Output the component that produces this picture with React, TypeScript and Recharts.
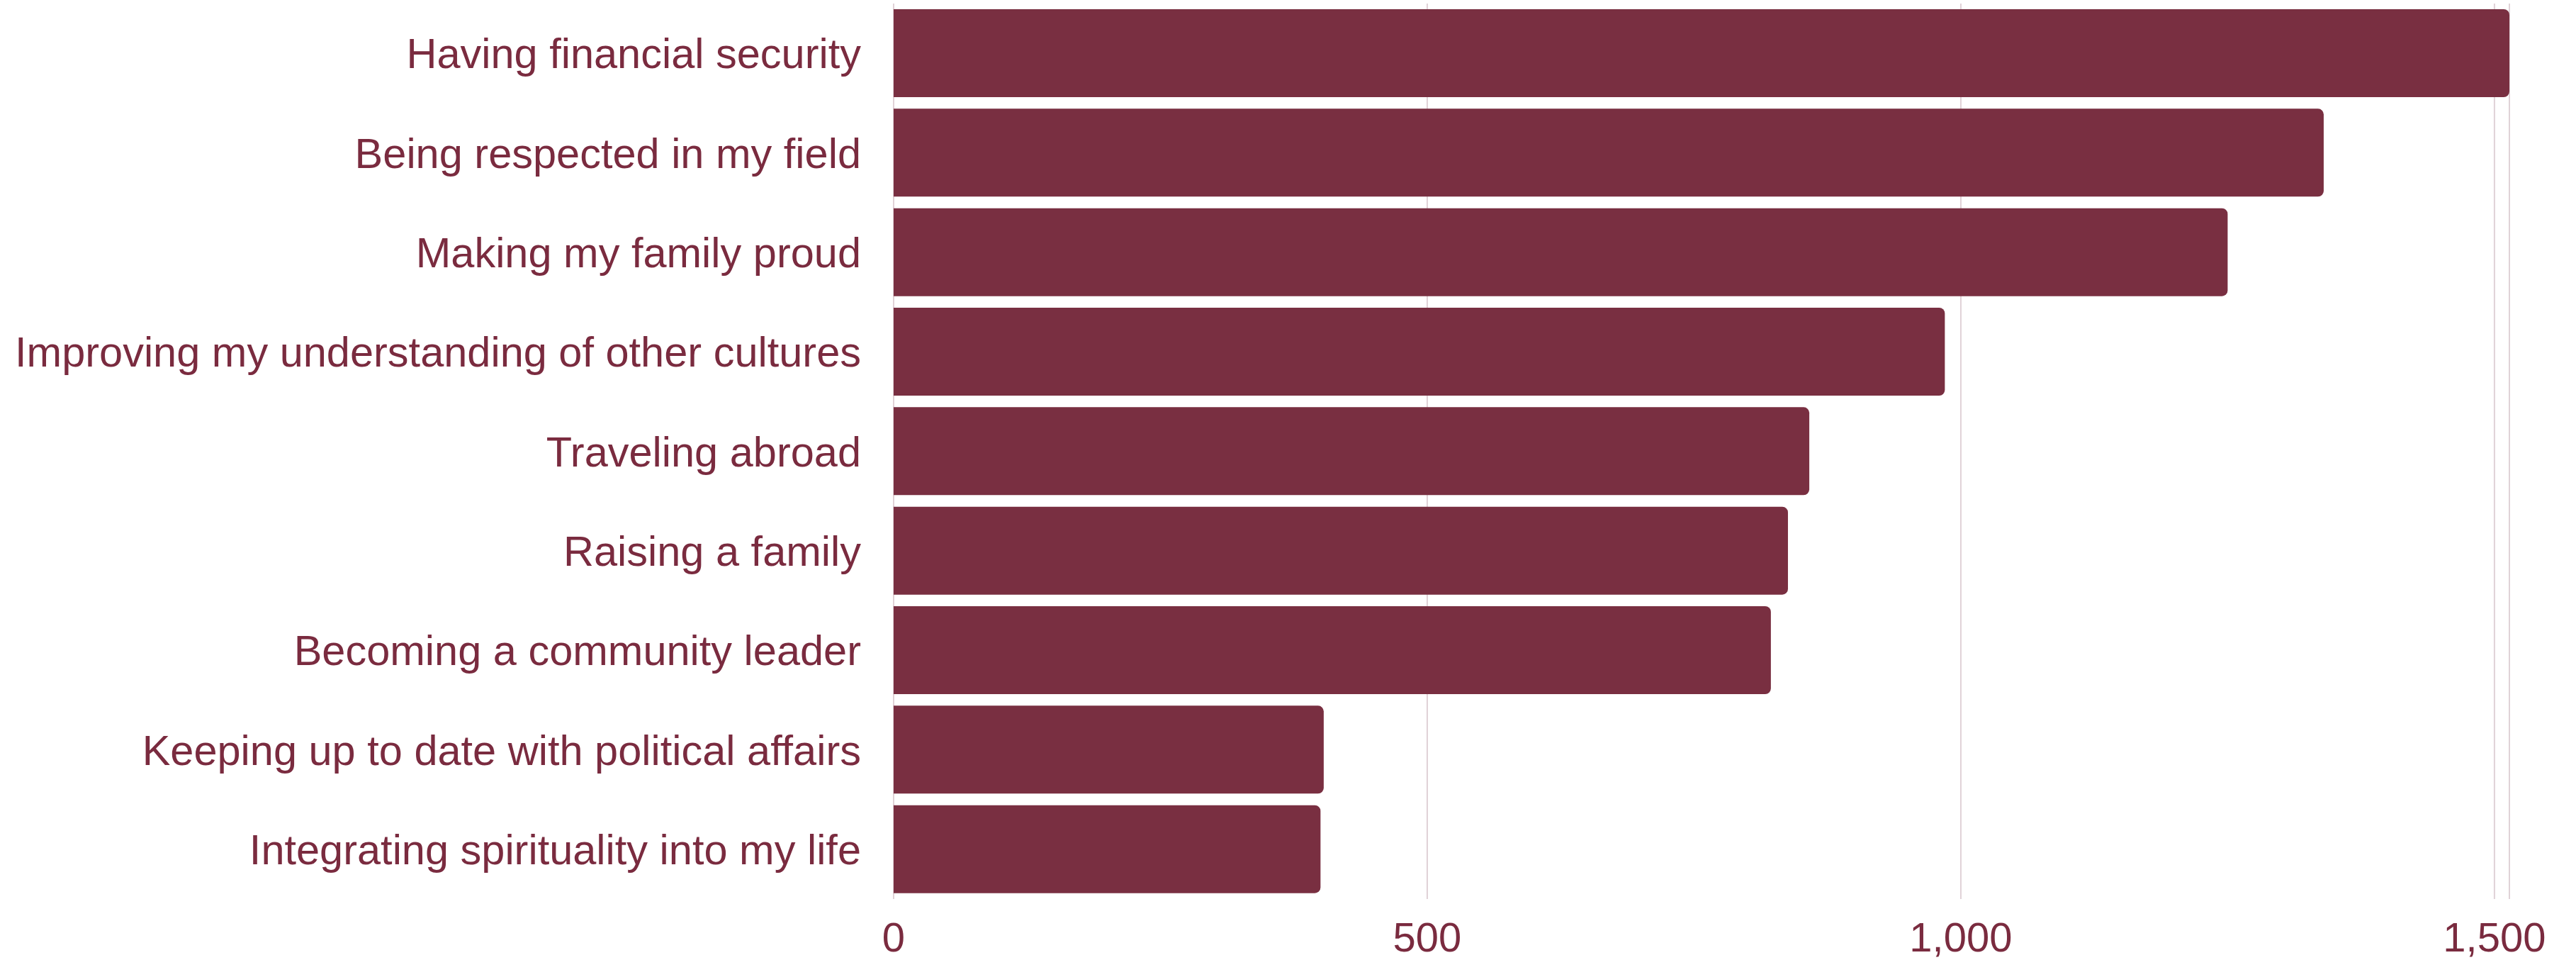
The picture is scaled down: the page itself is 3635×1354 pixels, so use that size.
import React from 'react';
import { BarChart, Bar, XAxis, YAxis, CartesianGrid } from 'recharts';

const categories = [
  'Having financial security',
  'Being respected in my field',
  'Making my family proud',
  'Improving my understanding of other cultures',
  'Traveling abroad',
  'Raising a family',
  'Becoming a community leader',
  'Keeping up to date with political affairs',
  'Integrating spirituality into my life',
];

const counts = [1514, 1340, 1250, 985, 858, 838, 822, 403, 400];

const xTicks = [0, 500, 1000, 1500];

const BAR_COLOR = '#792f41';
const TEXT_COLOR = '#7a2b3f';
const GRID_COLOR = '#e0d2d7';
const FONT = '"Liberation Sans", Arial, sans-serif';

const data = categories.map((name, i) => ({ name, value: counts[i] }));

export default function App() {
  return (
    <div style={{ position: 'absolute', left: 0, top: 0, background: '#fff' }}>
      <BarChart
        width={3635}
        height={1354}
        data={data}
        layout="vertical"
        margin={{ top: 5, right: 94, bottom: 0, left: 0 }}
        style={{ fontFamily: FONT }}
      >
        <CartesianGrid horizontal={false} stroke={GRID_COLOR} strokeWidth={2} />
        <XAxis
          type="number"
          domain={[0, 'dataMax']}
          ticks={xTicks}
          tickFormatter={(v: number) => v.toLocaleString('en-US')}
          axisLine={false}
          tickLine={false}
          tickSize={0}
          tickMargin={33}
          height={86}
          tick={{ fill: TEXT_COLOR, fontSize: 58, fontFamily: FONT }}
        />
        <YAxis
          type="category"
          dataKey="name"
          width={1261}
          axisLine={false}
          tickLine={false}
          tickSize={0}
          tickMargin={46}
          interval={0}
          tick={{ fill: TEXT_COLOR, fontSize: 59.5, fontFamily: FONT }}
        />
        <Bar
          dataKey="value"
          fill={BAR_COLOR}
          barSize={124}
          radius={[0, 8, 8, 0]}
          isAnimationActive={false}
        />
      </BarChart>
    </div>
  );
}
